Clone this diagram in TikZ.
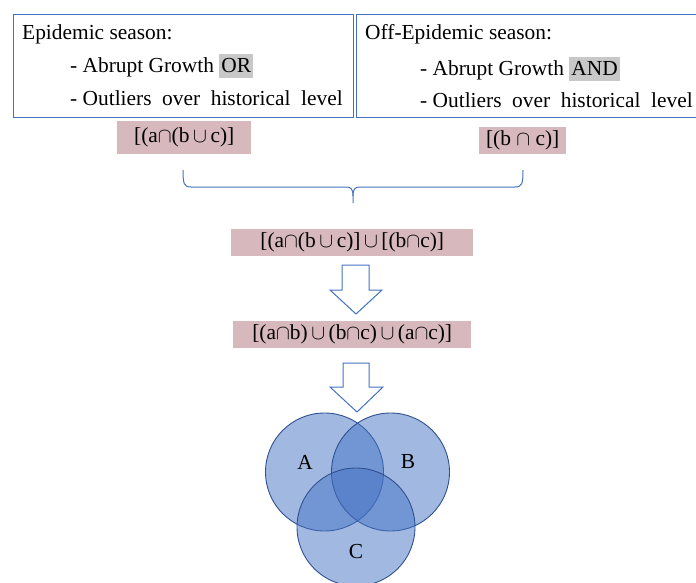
\documentclass[tikz,border=0pt]{standalone}
\usepackage{fontspec}
\setmainfont{Liberation Serif}
\definecolor{boxblue}{RGB}{68,114,196}
\definecolor{pinkbg}{RGB}{215,184,188}
\definecolor{hlgray}{RGB}{200,200,200}
\definecolor{venfill}{RGB}{68,114,196}
\definecolor{venedge}{RGB}{47,82,143}
\newcommand{\hlword}[1]{{\setlength{\fboxsep}{0pt}\colorbox{hlgray}{\rule[-5pt]{0pt}{24pt}\hspace{2pt}#1\hspace{2pt}}}}
\newcommand{\outline}[1]{-\hspace{0.25em}\makebox[#1][s]{Outliers over historical level}}
\begin{document}
\begin{tikzpicture}[x=1pt,y=-1pt,
  font=\fontsize{21.4}{25}\selectfont,
  seasonbox/.style={draw=boxblue, line width=1pt, inner sep=0pt, anchor=north west},
  linetext/.style={inner sep=0pt, anchor=base west},
  formula/.style={fill=pinkbg, inner sep=0pt, anchor=north west},
  blockarrow/.style={draw=boxblue, line width=1pt, fill=white, line join=miter},
  vcircle/.style={circle, draw=venedge, line width=0.9pt, fill=venfill, fill opacity=0.5, text opacity=1, minimum size=118pt, inner sep=0pt},
  brace/.style={draw=boxblue, line width=1pt}]
\useasboundingbox (0,0) rectangle (696,583);
\clip (0,0) rectangle (696,583);

% season boxes
\node[seasonbox, minimum width=340pt, minimum height=103pt] (left) at (13,14) {};
\node[seasonbox, minimum width=350pt, minimum height=103pt] (right) at (356,14) {};

\node[linetext] (l1) at (22,40) {Epidemic season:};
\node[linetext] (l2) at (70,73) {- Abrupt Growth \hlword{OR}};
\node[linetext] (l3) at (70,106) {\outline{260pt}};

\node[linetext] (r1) at (365,40) {Off-Epidemic season:};
\node[linetext] (r2) at (420,76) {- Abrupt Growth \hlword{AND}};
\node[linetext] (r3) at (420,108) {\outline{260pt}};

% formula boxes
\node[formula, minimum width=134pt, minimum height=33pt] (f1) at (117,121) {[(a$\cap$(b\,$\cup$\,c)]};
\node[formula, minimum width=87pt, minimum height=27pt] (f2) at (479,127) {[(b $\cap$ c)]};

% brace
\coordinate (bl) at (183,170);
\coordinate (br) at (523,170);
\coordinate (bt) at (353,203);
\draw[brace] (bl) .. controls (183,184) and (184,187) .. (191,187) -- (346,187)
  .. controls (351,187) and (353,189) .. (353,196) -- (bt);
\draw[brace] (br) .. controls (523,184) and (522,187) .. (515,187) -- (360,187)
  .. controls (355,187) and (353,189) .. (353,196);

\node[formula, minimum width=242pt, minimum height=27pt] (f3) at (231,229) {[(a$\cap$(b\,$\cup$\,c)]\,$\cup$\,[(b$\cap$c)]};

% arrow 1
\coordinate (a1) at (356,265);
\draw[blockarrow] (a1) ++(-14,0) -- ++(27,0) -- ++(0,25) -- ++(13,0) -- (356,314) -- (330,290) -- ++(12,0) -- cycle;

\node[formula, minimum width=238pt, minimum height=27pt] (f4) at (233,321) {[(a$\cap$b)\,$\cup$\,(b$\cap$c)\,$\cup$\,(a$\cap$c)]};

% arrow 2
\coordinate (a2) at (356,363);
\draw[blockarrow] (a2) ++(-13,0) -- ++(26,0) -- ++(0,24) -- ++(14,0) -- (357,412) -- (330,387) -- ++(13,0) -- cycle;

% Venn
\node[vcircle] (A) at (324.5,472) {};
\node[vcircle] (B) at (390.5,472) {};
\node[vcircle] (C) at (356,527) {};
\node (LA) at (305,462) {A};
\node (LB) at (408,462) {B};
\node (LC) at (356,552) {C};
\end{tikzpicture}
\end{document}
